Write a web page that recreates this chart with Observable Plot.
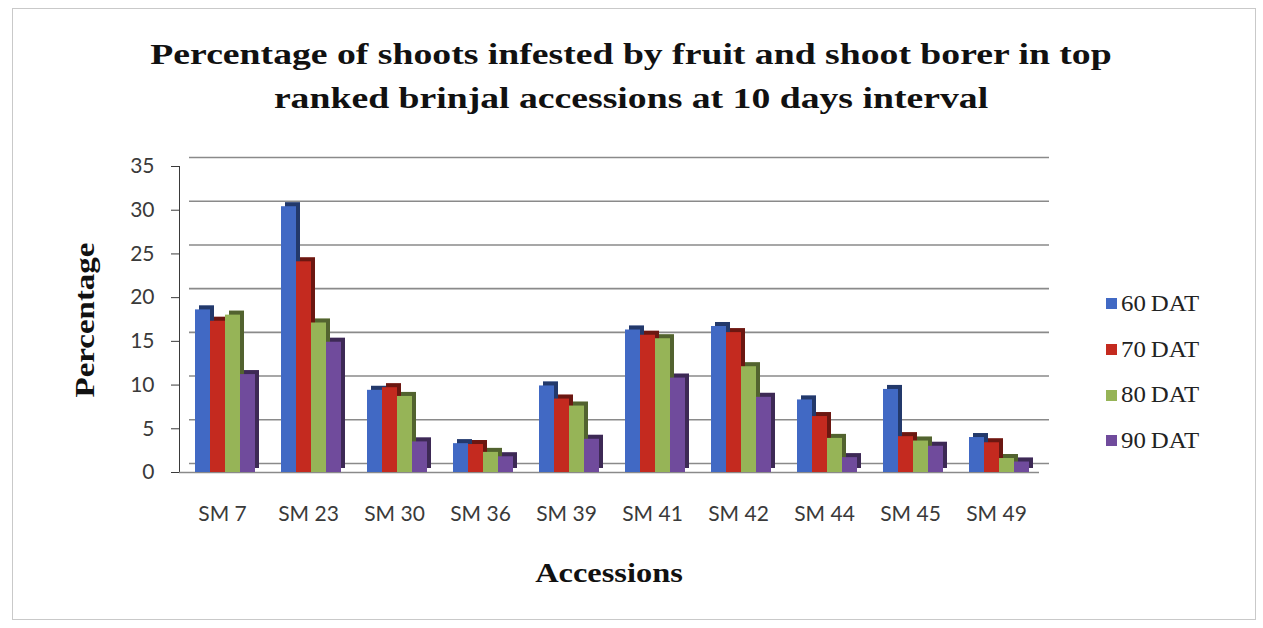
<!DOCTYPE html>
<html>
<head>
<meta charset="utf-8">
<script src="https://cdn.jsdelivr.net/npm/d3@7"></script>
<script src="https://cdn.jsdelivr.net/npm/@observablehq/plot@0.6"></script>
<style>
  html, body { margin: 0; padding: 0; background: #fff; }
  #wrap { position: relative; width: 1263px; height: 628px; overflow: hidden; background: #fff; }
  #box { position: absolute; left: 12px; top: 8px; width: 1244px; height: 612px; border: 1.5px solid #c9c9c9; box-sizing: border-box; }
  .ttl { position: absolute; left: 631px; transform: translate(-50%, -50%) scaleX(1.3); font-family: "Liberation Serif", serif; font-weight: bold; font-size: 29px; color: #111; white-space: nowrap; }
  #ylab { position: absolute; left: 85px; top: 320px; transform: translate(-50%, -50%) rotate(-90deg) scaleX(1.22); font-family: "Liberation Serif", serif; font-weight: bold; font-size: 27px; color: #111; white-space: nowrap; }
  #xlab { position: absolute; left: 609px; top: 573px; transform: translate(-50%, -50%) scaleX(1.2); font-family: "Liberation Serif", serif; font-weight: bold; font-size: 27px; color: #111; white-space: nowrap; }
  #chart { position: absolute; left: 0; top: 150px; }
  #legend { position: absolute; left: 1106px; top: 281px; font-family: "Liberation Serif", serif; font-size: 23px; color: #222; }
  #legend .row { height: 45.7px; display: flex; align-items: center; white-space: nowrap; }
  #legend .sw { width: 11px; height: 11px; margin-right: 4px; }
  #legend span { display: inline-block; transform: scaleX(1.08); transform-origin: left center; }
</style>
</head>
<body>
<div id="wrap">
  <div id="box"></div>
  <div class="ttl" style="top:54px">Percentage of shoots infested by fruit and shoot borer in top</div>
  <div class="ttl" style="top:98px">ranked brinjal accessions at 10 days interval</div>
  <div id="ylab">Percentage</div>
  <div id="xlab">Accessions</div>
  <div id="chart"></div>
  <div id="legend"></div>
</div>
<script>
const accessions = ["SM 7", "SM 23", "SM 30", "SM 36", "SM 39", "SM 41", "SM 42", "SM 44", "SM 45", "SM 49"];
const seriesNames = ["60 DAT", "70 DAT", "80 DAT", "90 DAT"];
const dat60 = [18.6, 30.4, 9.4, 3.3, 9.9, 16.3, 16.7, 8.3, 9.5, 4.0];
const dat70 = [17.3, 24.1, 9.7, 3.2, 8.4, 15.7, 16.0, 6.4, 4.1, 3.4];
const dat80 = [18.0, 17.1, 8.7, 2.3, 7.6, 15.3, 12.1, 3.9, 3.6, 1.6];
const dat90 = [11.2, 14.9, 3.5, 1.8, 3.8, 10.8, 8.6, 1.7, 3.0, 1.2];
const yTicks = [0, 5, 10, 15, 20, 25, 30, 35];
const colors = ["#4169c4", "#c42a1f", "#96b457", "#704b9c"];

const seriesValues = [dat60, dat70, dat80, dat90];
const data = [];
accessions.forEach((acc, i) => {
  seriesNames.forEach((s, j) => {
    data.push({acc, series: s, value: seriesValues[j][i]});
  });
});

const chart = Plot.plot({
  width: 1263,
  height: 380,
  marginTop: 16,
  marginBottom: 58,
  marginLeft: 174,
  marginRight: 220,
  style: {fontFamily: "Lato, 'Open Sans', sans-serif", fontSize: "21px", color: "#3a3a3a", background: "transparent"},
  fx: {domain: accessions, padding: 0, label: null, tickSize: 0, tickPadding: 34},
  x: {domain: seriesNames, axis: null, paddingInner: 0, paddingOuter: 0.8},
  y: {domain: [0, 35], ticks: yTicks, tickSize: 8, tickPadding: 17, label: null, line: true},
  color: {domain: seriesNames, range: colors},
  marks: [
    Plot.ruleY(yTicks, {dx: 10, dy: -9, stroke: "#8a8a8a", strokeWidth: 1.6}),
    Plot.ruleY([0], {stroke: "#8a8a8a", strokeWidth: 1.6}),
    Plot.barY(data, {fx: "acc", x: "series", y: "value", fill: "series", dx: 7, dy: -4, inset: 0}),
    Plot.barY(data, {fx: "acc", x: "series", y: "value", fill: "#000", fillOpacity: 0.45, dx: 7, dy: -4, inset: 0}),
    Plot.barY(data, {fx: "acc", x: "series", y: "value", fill: "series", dx: 3, inset: 0})
  ]
});
document.getElementById("chart").appendChild(chart);

const legend = document.getElementById("legend");
seriesNames.forEach((s, j) => {
  const row = document.createElement("div");
  row.className = "row";
  const sw = document.createElement("div");
  sw.className = "sw";
  sw.style.background = colors[j];
  const t = document.createElement("span");
  t.textContent = s.replace(" ", "\u2009");
  row.appendChild(sw);
  row.appendChild(t);
  legend.appendChild(row);
});
</script>
</body>
</html>
